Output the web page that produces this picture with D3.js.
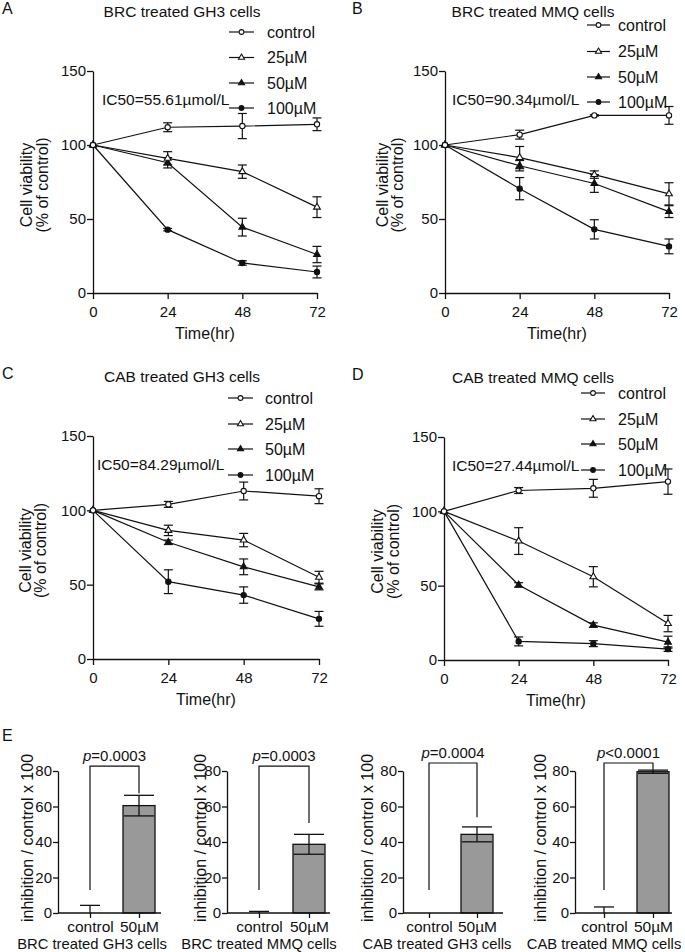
<!DOCTYPE html>
<html>
<head>
<meta charset="utf-8">
<script src="https://cdn.jsdelivr.net/npm/d3@7"></script>
<style>
  html, body { margin: 0; padding: 0; background: #fff; }
  svg { display: block; font-family: "Liberation Sans", Arial, sans-serif; }
</style>
</head>
<body>
<svg id="chart" width="685" height="952"></svg>
<script>
// ---------------- DATA ----------------
const timePoints = [0, 24, 48, 72];
const seriesNames = ['control', '25µM', '50µM', '100µM'];
const viabilityTicks = [0, 50, 100, 150];
const panelTitles = ['BRC treated GH3 cells', 'BRC treated MMQ cells', 'CAB treated GH3 cells', 'CAB treated MMQ cells'];
const ic50Labels = ['IC50=55.61µmol/L', 'IC50=90.34µmol/L', 'IC50=84.29µmol/L', 'IC50=27.44µmol/L'];

// Panel A: BRC treated GH3 cells (mean, sd)
const brcGH3_control = [100, 112, 112.8, 114];
const brcGH3_control_sd = [0, 3, 8.5, 4.3];
const brcGH3_25 = [100, 91, 82, 58];
const brcGH3_25_sd = [0, 4.5, 4.5, 7];
const brcGH3_50 = [100, 88, 44.5, 26];
const brcGH3_50_sd = [0, 3.5, 6, 5.5];
const brcGH3_100 = [100, 42.8, 20.3, 14.2];
const brcGH3_100_sd = [0, 0.8, 1.5, 4];

// Panel B: BRC treated MMQ cells
const brcMMQ_control = [100, 107, 120, 120];
const brcMMQ_control_sd = [0, 3, 0.5, 6];
const brcMMQ_25 = [100, 91.5, 80, 67];
const brcMMQ_25_sd = [0, 7.5, 2.5, 7.5];
const brcMMQ_50 = [100, 86, 74, 55];
const brcMMQ_50_sd = [0, 3.5, 6, 4];
const brcMMQ_100 = [100, 70.5, 43, 31.5];
const brcMMQ_100_sd = [0, 7.5, 6.5, 5];

// Panel C: CAB treated GH3 cells
const cabGH3_control = [100, 104, 113, 109.5];
const cabGH3_control_sd = [0, 2, 6, 5];
const cabGH3_25 = [100, 86.5, 80, 55];
const cabGH3_25_sd = [0, 3.5, 4.5, 4];
const cabGH3_50 = [100, 78.5, 62, 48.5];
const cabGH3_50_sd = [0, 1.5, 5.3, 2];
const cabGH3_100 = [100, 52, 43, 27];
const cabGH3_100_sd = [0, 8, 5.5, 5];

// Panel D: CAB treated MMQ cells
const cabMMQ_control = [100, 114, 115.5, 120];
const cabMMQ_control_sd = [0, 2, 6, 8.5];
const cabMMQ_25 = [100, 80, 56, 24.5];
const cabMMQ_25_sd = [0, 9, 6.8, 5.5];
const cabMMQ_50 = [100, 50.5, 23.5, 12];
const cabMMQ_50_sd = [0, 1.5, 1.5, 4];
const cabMMQ_100 = [100, 12.5, 11, 7.3];
const cabMMQ_100_sd = [0, 3, 2, 1.5];

// Panel E: inhibition bar charts
const barCategories = ['control', '50µM'];
const inhibitionTicks = [0, 20, 40, 60, 80];
const inhibitionControl = [0, 0, 0, 0];
const inhibitionControlErr = [4.3, 0.9, 0, 3.4];
const inhibition50 = [60.5, 38.7, 44.3, 79.6];
const inhibition50Err = [5.8, 5.6, 4.2, 0.9];
const pValueRelation = ['=', '=', '=', '<'];
const pValueNumbers = ['0.0003', '0.0003', '0.0004', '0.0001'];
const bracketLevel = [82.8, 82.8, 84.5, 84.5];
const bracketLeftFoot = [13, 13, 13, 13];
const bracketRightFoot = [67.5, 50.7, 54, 80.7];

// ---------------- DRAWING ----------------
const svg = d3.select('#chart');
const INK = '#111';

function panelSeries(c, c_sd, a, a_sd, b, b_sd, d, d_sd) {
  const means = [c, a, b, d], sds = [c_sd, a_sd, b_sd, d_sd];
  return seriesNames.map((name, i) => ({
    name, values: timePoints.map((t, j) => ({ t, v: means[i][j], sd: sds[i][j] }))
  }));
}

const panels = [
  { letter: 'A', series: panelSeries(brcGH3_control, brcGH3_control_sd, brcGH3_25, brcGH3_25_sd, brcGH3_50, brcGH3_50_sd, brcGH3_100, brcGH3_100_sd),
    x0: 93, x1: 317, yb: 293, yt: 71, letterX: 2, titleX: 182,
    legLine: [229, 254], legText: 267, legRows: [32, 57.5, 83, 108], ic50X: 102, ylab: [31.5, 47.5] },
  { letter: 'B', series: panelSeries(brcMMQ_control, brcMMQ_control_sd, brcMMQ_25, brcMMQ_25_sd, brcMMQ_50, brcMMQ_50_sd, brcMMQ_100, brcMMQ_100_sd),
    x0: 445, x1: 669, yb: 293, yt: 71, letterX: 352, titleX: 533,
    legLine: [587, 610], legText: 618, legRows: [25, 51.5, 77, 102], ic50X: 452, ylab: [388, 403] },
  { letter: 'C', series: panelSeries(cabGH3_control, cabGH3_control_sd, cabGH3_25, cabGH3_25_sd, cabGH3_50, cabGH3_50_sd, cabGH3_100, cabGH3_100_sd),
    x0: 93, x1: 319, yb: 659, yt: 436, letterX: 2, titleX: 182,
    legLine: [228, 253], legText: 265, legRows: [398, 424, 449, 475], ic50X: 97, ylab: [30.5, 46] },
  { letter: 'D', series: panelSeries(cabMMQ_control, cabMMQ_control_sd, cabMMQ_25, cabMMQ_25_sd, cabMMQ_50, cabMMQ_50_sd, cabMMQ_100, cabMMQ_100_sd),
    x0: 444, x1: 668, yb: 660, yt: 437, letterX: 352, titleX: 533,
    legLine: [581, 605], legText: 618, legRows: [393, 419, 444, 470], ic50X: 452, ylab: [383, 398.5] }
];

const markerStyles = {
  'control': { type: d3.symbolCircle, size: 22, fill: '#fff' },
  '25µM':    { type: d3.symbolTriangle, size: 20, fill: '#fff' },
  '50µM':    { type: d3.symbolTriangle, size: 20, fill: INK },
  '100µM':   { type: d3.symbolCircle, size: 22, fill: INK }
};

function styleAxis(g) {
  g.selectAll('.domain').attr('stroke', INK).attr('stroke-width', 1.3);
  g.selectAll('.tick line').attr('stroke', INK).attr('stroke-width', 1.3);
  g.selectAll('.tick text').attr('fill', INK).style('font-size', '15px');
}

panels.forEach((p, pi) => {
  const g = svg.append('g');
  const x = d3.scaleLinear().domain([0, 72]).range([p.x0, p.x1]);
  const y = d3.scaleLinear().domain([0, 150]).range([p.yb, p.yt]);

  // panel letter & title
  g.append('text').attr('x', p.letterX).attr('y', p.yt - 57).style('font-size', '16px').attr('fill', INK).text(p.letter);
  g.append('text').attr('x', p.titleX).attr('y', p.yt - 54.5).attr('text-anchor', 'middle')
    .style('font-size', '15.5px').attr('fill', INK).text(panelTitles[pi]);

  // axes
  const ya = g.append('g').attr('transform', `translate(${p.x0},0)`)
    .call(d3.axisLeft(y).tickValues(viabilityTicks).tickSize(6).tickSizeOuter(0).tickPadding(1));
  styleAxis(ya);
  const xa = g.append('g').attr('transform', `translate(0,${p.yb})`)
    .call(d3.axisBottom(x).tickValues(timePoints).tickSize(6).tickSizeOuter(0).tickPadding(7));
  styleAxis(xa);

  // axis titles
  g.append('text').attr('x', (p.x0 + p.x1) / 2).attr('y', p.yb + 45.5).attr('text-anchor', 'middle')
    .style('font-size', '16px').attr('fill', INK).text('Time(hr)');
  const ymid = (p.yb + p.yt) / 2 + 3;
  ['Cell viability', '(% of control)'].forEach((t, i) => {
    g.append('text').attr('transform', `translate(${p.ylab[i]},${ymid}) rotate(-90)`)
      .attr('text-anchor', 'middle').style('font-size', '16px').attr('fill', INK).text(t);
  });

  // IC50 label
  g.append('text').attr('x', p.ic50X).attr('y', p.yt + 33.5).style('font-size', '15.5px').attr('fill', INK).text(ic50Labels[pi]);

  // lines
  const line = d3.line().x(d => x(d.t)).y(d => y(d.v));
  p.series.forEach(s => {
    g.append('path').datum(s.values).attr('d', line).attr('fill', 'none').attr('stroke', INK).attr('stroke-width', 1.2);
  });
  // error bars
  const cap = 4.5;
  p.series.forEach(s => {
    s.values.filter(d => d.sd > 0).forEach(d => {
      const cx = x(d.t), y1 = y(d.v + d.sd), y2 = y(d.v - d.sd);
      g.append('line').attr('x1', cx).attr('x2', cx).attr('y1', y1).attr('y2', y2).attr('stroke', INK).attr('stroke-width', 1.2);
      [y1, y2].forEach(yy => g.append('line').attr('x1', cx - cap).attr('x2', cx + cap).attr('y1', yy).attr('y2', yy)
        .attr('stroke', INK).attr('stroke-width', 1.2));
    });
  });
  // markers
  p.series.slice().reverse().forEach(s => {
    const m = markerStyles[s.name];
    g.selectAll(null).data(s.values).enter().append('path')
      .attr('d', d3.symbol().type(m.type).size(m.size))
      .attr('transform', d => `translate(${x(d.t)},${y(d.v)})`)
      .attr('fill', m.fill).attr('stroke', INK).attr('stroke-width', 1.1);
  });

  // legend
  seriesNames.forEach((name, i) => {
    const cy = p.legRows[i];
    const m = markerStyles[name];
    g.append('line').attr('x1', p.legLine[0]).attr('x2', p.legLine[1]).attr('y1', cy).attr('y2', cy)
      .attr('stroke', INK).attr('stroke-width', 1.2);
    g.append('path').attr('d', d3.symbol().type(m.type).size(m.size * 0.8)())
      .attr('transform', `translate(${(p.legLine[0] + p.legLine[1]) / 2},${cy})`)
      .attr('fill', m.fill).attr('stroke', INK).attr('stroke-width', 1.1);
    g.append('text').attr('x', p.legText).attr('y', cy + 5.5).style('font-size', '16px').attr('fill', INK).text(name);
  });
});

// ---------------- PANEL E ----------------
svg.append('text').attr('x', 2).attr('y', 741).style('font-size', '16px').attr('fill', INK).text('E');

const barLayouts = [
  { x0: 58, cats: [90, 139], xEnd: 161, ylabX: 32.5, subX: 92 },
  { x0: 227, cats: [259, 309], xEnd: 330, ylabX: 205.5, subX: 259 },
  { x0: 403, cats: [429, 477], xEnd: 503, ylabX: 372.5, subX: 437 },
  { x0: 575, cats: [604, 653], xEnd: 672, ylabX: 545.5, subX: 604 }
];

barLayouts.forEach((L, bi) => {
  const g = svg.append('g');
  const y = d3.scaleLinear().domain([0, 80]).range([913, 771]);
  const x = d3.scalePoint().domain(barCategories).range(L.cats);
  const bw = 32;

  // bar
  const barData = [
    { cat: 'control', v: inhibitionControl[bi], err: inhibitionControlErr[bi] },
    { cat: '50µM', v: inhibition50[bi], err: inhibition50Err[bi] }
  ];
  g.selectAll('rect').data(barData.filter(d => d.v > 0)).enter().append('rect')
    .attr('x', d => x(d.cat) - bw / 2).attr('width', bw)
    .attr('y', d => y(d.v)).attr('height', d => y(0) - y(d.v))
    .attr('fill', '#999').attr('stroke', INK).attr('stroke-width', 1.3);

  // error bars
  barData.forEach(d => {
    if (d.err <= 0) return;
    const cx = x(d.cat);
    const top = y(d.v + d.err);
    const bot = d.v > 0 ? y(d.v - d.err) : y(d.v);
    const capW = d.v > 0 ? 15 : 10;
    g.append('line').attr('x1', cx).attr('x2', cx).attr('y1', top).attr('y2', bot).attr('stroke', INK).attr('stroke-width', 1.3);
    g.append('line').attr('x1', cx - capW).attr('x2', cx + capW).attr('y1', top).attr('y2', top).attr('stroke', INK).attr('stroke-width', 1.3);
    if (d.v > 0) g.append('line').attr('x1', cx - capW).attr('x2', cx + capW).attr('y1', bot).attr('y2', bot).attr('stroke', INK).attr('stroke-width', 1.3);
  });

  // axes
  const ya = g.append('g').attr('transform', `translate(${L.x0},0)`)
    .call(d3.axisLeft(y).tickValues(inhibitionTicks).tickSize(5).tickSizeOuter(0).tickPadding(1));
  styleAxis(ya);
  const xa = g.append('g').attr('transform', 'translate(0,913)')
    .call(d3.axisBottom(x).tickSize(5).tickSizeOuter(0).tickPadding(3));
  xa.select('.domain').attr('d', `M${L.x0},0H${L.xEnd}`);
  styleAxis(xa);
  xa.selectAll('.tick text').style('font-size', '15.5px');

  // y label
  g.append('text').attr('transform', `translate(${L.ylabX},838) rotate(-90)`).attr('text-anchor', 'middle')
    .style('font-size', '16px').attr('fill', INK).text('inhibition / control x 100');
  // subtitle
  g.append('text').attr('x', L.subX).attr('y', 948.5).attr('text-anchor', 'middle')
    .style('font-size', '14.8px').attr('fill', INK).text(panelTitles[bi]);

  // significance bracket
  const xl = x('control'), xr = x('50µM'), yb = y(bracketLevel[bi]);
  g.append('path').attr('d', `M${xl},${y(bracketLeftFoot[bi])}V${yb}H${xr}V${y(bracketRightFoot[bi])}`)
    .attr('fill', 'none').attr('stroke', INK).attr('stroke-width', 1.2);
  const pt = g.append('text').attr('x', (xl + xr) / 2).attr('y', yb - 5.5).attr('text-anchor', 'middle')
    .style('font-size', '15px').attr('fill', INK);
  pt.append('tspan').style('font-style', 'italic').text('p');
  pt.append('tspan').text(pValueRelation[bi] + pValueNumbers[bi]);
});
</script>
</body>
</html>
